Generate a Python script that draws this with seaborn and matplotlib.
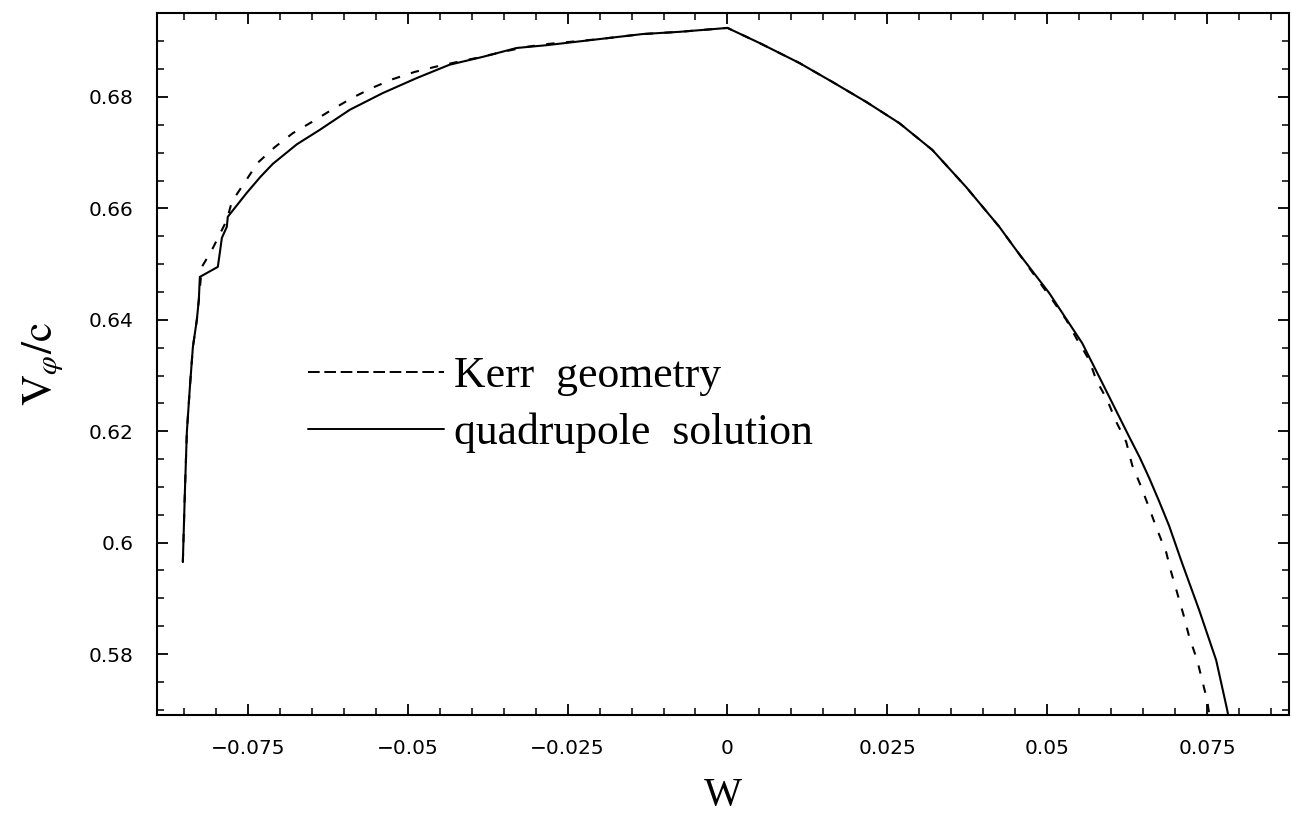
import matplotlib
matplotlib.use("Agg")
import matplotlib.pyplot as plt
from matplotlib.lines import Line2D
from matplotlib.ticker import FixedLocator, MultipleLocator
import numpy as np
import pandas as pd
import seaborn as sns

# ---- data ----
quad_w = [-0.08516, -0.08484, -0.08453, -0.08406, -0.08359, -0.08297, -0.08266, -0.08250,
          -0.07969, -0.07938, -0.07906, -0.07828, -0.07813, -0.07516, -0.07300, -0.07109,
          -0.06734, -0.06375, -0.05906, -0.05391, -0.04859, -0.04344, -0.03828, -0.03297,
          -0.02828, -0.02000, -0.01328, -0.00750, 0.0, 0.00500, 0.01125, 0.01641, 0.02172,
          0.02688, 0.03203, 0.03734, 0.04250, 0.04516, 0.05031, 0.05547, 0.05859, 0.06281,
          0.06450, 0.06594, 0.06750, 0.06906, 0.07109, 0.07375, 0.07641, 0.07813, 0.07844]
quad_v = [0.5965, 0.6091, 0.6199, 0.6279, 0.6351, 0.6400, 0.6436, 0.6477,
          0.6495, 0.6520, 0.6547, 0.6567, 0.6585, 0.6628, 0.6657, 0.6680,
          0.6715, 0.6741, 0.6777, 0.6807, 0.6834, 0.6858, 0.6872, 0.6888,
          0.6893, 0.6904, 0.6913, 0.6917, 0.6924, 0.6897, 0.6861, 0.6827, 0.6791,
          0.6753, 0.6705, 0.6638, 0.6567, 0.6525, 0.6448, 0.6358, 0.6287, 0.6190,
          0.6152, 0.6116, 0.6074, 0.6030, 0.5963, 0.5879, 0.5789, 0.5700, 0.5681]

kerr_w = [-0.08516, -0.08484, -0.08453, -0.08406, -0.08359, -0.08297, -0.08266, -0.08219,
          -0.08125, -0.08063, -0.07828, -0.07750, -0.07547, -0.07344, -0.07078, -0.06797,
          -0.06500, -0.06188, -0.05875, -0.05563, -0.05234, -0.04891, -0.04578, -0.04219,
          -0.03844, -0.03516, -0.03141, -0.02828, -0.02000, -0.01328, -0.00750, 0.0,
          0.00500, 0.01125, 0.01641, 0.02172, 0.02688, 0.03203, 0.03734, 0.04250, 0.04516,
          0.05078, 0.05297, 0.05469, 0.05656, 0.05766, 0.05938, 0.06078, 0.06234, 0.06328,
          0.06469, 0.06594, 0.06719, 0.06859, 0.06938, 0.07031, 0.07141, 0.07219, 0.07344,
          0.07422, 0.07500, 0.07547]
kerr_v = [0.5965, 0.6091, 0.6199, 0.6279, 0.6351, 0.6400, 0.6436, 0.6495,
          0.6513, 0.6525, 0.6579, 0.6612, 0.6647, 0.6682, 0.6710, 0.6735,
          0.6755, 0.6777, 0.6798, 0.6816, 0.6832, 0.6845, 0.6854, 0.6863,
          0.6872, 0.6881, 0.6890, 0.6895, 0.6904, 0.6913, 0.6917, 0.6924,
          0.6897, 0.6861, 0.6827, 0.6791, 0.6753, 0.6705, 0.6638, 0.6567, 0.6525,
          0.6436, 0.6400, 0.6364, 0.6328, 0.6292, 0.6256, 0.6217, 0.6181, 0.6139,
          0.6100, 0.6062, 0.6023, 0.5983, 0.5947, 0.5910, 0.5866, 0.5831, 0.5789,
          0.5753, 0.5717, 0.5681]

series_names = ["Kerr  geometry", "quadrupole  solution"]
x_ticks = [-0.075, -0.05, -0.025, 0.0, 0.025, 0.05, 0.075]
x_tick_labels = ["\u22120.075", "\u22120.05", "\u22120.025", "0", "0.025", "0.05", "0.075"]
y_ticks = [0.58, 0.60, 0.62, 0.64, 0.66, 0.68]
y_tick_labels = ["0.58", "0.6", "0.62", "0.64", "0.66", "0.68"]
x_label = "W"
y_label = r"$\mathrm{V}_{\varphi}/\mathrm{c}$"

# ---- style ----
sns.set_style("ticks")
plt.rcParams["font.family"] = ["DejaVu Sans"]
plt.rcParams["mathtext.fontset"] = "stix"
plt.rcParams.update({
    "xtick.direction": "in", "ytick.direction": "in",
    "xtick.top": True, "ytick.right": True,
    "xtick.minor.visible": True, "ytick.minor.visible": True,
    "text.color": "black", "axes.labelcolor": "black",
    "xtick.color": "black", "ytick.color": "black",
})

fig = plt.figure(figsize=(12.92, 8.18), dpi=100)
ax = fig.add_axes([157 / 1292, 1 - 715 / 818, (1289 - 157) / 1292, (715 - 13) / 818])

df_kerr = pd.DataFrame({"W": kerr_w, "V": kerr_v})
df_quad = pd.DataFrame({"W": quad_w, "V": quad_v})

sns.lineplot(data=df_kerr, x="W", y="V", ax=ax, sort=False, estimator=None,
             color="black", lw=1.5)
sns.lineplot(data=df_quad, x="W", y="V", ax=ax, sort=False, estimator=None,
             color="black", lw=1.5)
ax.lines[0].set_dashes((4.0, 5.5))

ax.set_xlim(-0.0892, 0.0878)
ax.set_ylim(0.56905, 0.69508)

ax.xaxis.set_major_locator(FixedLocator(x_ticks))
ax.set_xticklabels(x_tick_labels)
ax.xaxis.set_minor_locator(MultipleLocator(0.005))
ax.yaxis.set_major_locator(FixedLocator(y_ticks))
ax.set_yticklabels(y_tick_labels)
ax.yaxis.set_minor_locator(MultipleLocator(0.005))

ax.tick_params(which="major", length=8, width=1.3, labelsize=14.5, pad=17,
               color="black", labelcolor="black")
ax.tick_params(which="minor", length=5, width=1.1, color="black")
for s in ax.spines.values():
    s.set_linewidth(1.5)
    s.set_color("black")

ax.set_xlabel(x_label, family="Liberation Serif", fontsize=29, labelpad=14)
ax.set_ylabel(y_label, fontsize=31, labelpad=16)

handles = [Line2D([], [], color="black", lw=1.4, dashes=(6.0, 2.4)),
           Line2D([], [], color="black", lw=1.4)]
leg = ax.legend(handles, series_names, loc="center left", bbox_to_anchor=(0.1333, 0.442),
                frameon=False, borderpad=0, borderaxespad=0, handlelength=3.1,
                handletextpad=0.25, labelspacing=0.37,
                prop={"family": "Liberation Serif", "size": 31.5})

fig.savefig("out.png", dpi=100)
